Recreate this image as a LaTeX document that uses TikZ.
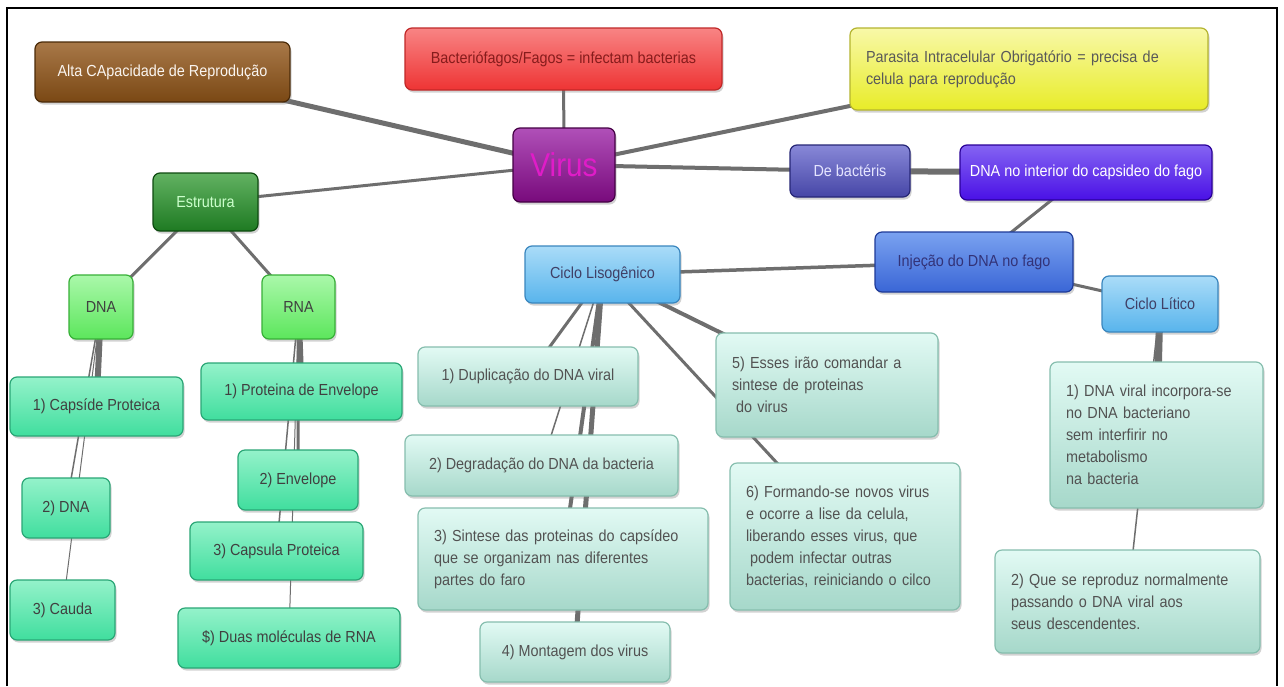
\documentclass[tikz,border=0pt]{standalone}
\usepackage{fontspec}
\setmainfont{Liberation Sans}[FakeStretch=0.9]
\usetikzlibrary{shadows}
\pgfdeclarelayer{paper}
\pgfdeclarelayer{links}
\pgfsetlayers{paper,links,main}
\definecolor{lnk}{HTML}{6E6E6E}
\definecolor{brB}{HTML}{7A4814}\definecolor{brT}{HTML}{A87848}\definecolor{brD}{HTML}{4A2A08}
\definecolor{rdB}{HTML}{EE3434}\definecolor{rdT}{HTML}{F88484}\definecolor{rdD}{HTML}{C02828}
\definecolor{ylB}{HTML}{E8EC28}\definecolor{ylT}{HTML}{F8F8A8}\definecolor{ylD}{HTML}{B4B430}
\definecolor{puB}{HTML}{780A7C}\definecolor{puT}{HTML}{B050B8}\definecolor{puD}{HTML}{440044}
\definecolor{dgB}{HTML}{1E7A22}\definecolor{dgT}{HTML}{62B262}\definecolor{dgD}{HTML}{0E4A10}
\definecolor{slB}{HTML}{4646A6}\definecolor{slT}{HTML}{8888D8}\definecolor{slD}{HTML}{262676}
\definecolor{viB}{HTML}{4A10E6}\definecolor{viT}{HTML}{8464F2}\definecolor{viD}{HTML}{2A0098}
\definecolor{rbB}{HTML}{3A66D6}\definecolor{rbT}{HTML}{7AA2F0}\definecolor{rbD}{HTML}{1E3A98}
\definecolor{skB}{HTML}{58B4EC}\definecolor{skT}{HTML}{AADCF8}\definecolor{skD}{HTML}{3A86BE}
\definecolor{lgB}{HTML}{5CE65C}\definecolor{lgT}{HTML}{AAF8AA}\definecolor{lgD}{HTML}{38B038}
\definecolor{aqB}{HTML}{40DE9E}\definecolor{aqT}{HTML}{94F2CA}\definecolor{aqD}{HTML}{2AA676}
\definecolor{paB}{HTML}{A6D8CA}\definecolor{paT}{HTML}{E2FAF4}\definecolor{paD}{HTML}{86BEAE}
\definecolor{vtx}{HTML}{E01CC8}
\tikzset{
  box/.style={draw, rounded corners=7pt, line width=1.2pt, inner sep=0pt,
    drop shadow={shadow xshift=1.5pt,shadow yshift=-2.5pt,opacity=0.35},
    font=\fontsize{16}{22}\selectfont, align=center},
  sz/.style args={#1/#2}{minimum width=#1pt, minimum height=#2pt},
  tw/.style args={#1/#2}{minimum width=#1pt, minimum height=#2pt, text width=#1pt-32pt, align=left},
  brownbox/.style={box, draw=brD, top color=brT, bottom color=brB, text=white!92!brown},
  redbox/.style={box, draw=rdD, top color=rdT, bottom color=rdB, text=rdD!70!black},
  yellowbox/.style={box, draw=ylD, top color=ylT, bottom color=ylB, text=black!65},
  purplebox/.style={box, draw=puD, top color=puT, bottom color=puB, text=vtx, font=\fontsize{33}{36}\selectfont},
  dgreenbox/.style={box, draw=dgD, top color=dgT, bottom color=dgB, text=green!20!white},
  slatebox/.style={box, draw=slD, top color=slT, bottom color=slB, text=white!90!blue},
  violetbox/.style={box, draw=viD, top color=viT, bottom color=viB, text=white},
  royalbox/.style={box, draw=rbD, top color=rbT, bottom color=rbB, text=black!55!blue!60!gray},
  skybox/.style={box, draw=skD, top color=skT, bottom color=skB, text=black!70!blue!50!gray},
  lgreenbox/.style={box, draw=lgD, top color=lgT, bottom color=lgB, text=black!75},
  aquabox/.style={box, draw=aqD, top color=aqT, bottom color=aqB, text=black!75},
  palebox/.style={box, draw=paD, top color=paT, bottom color=paB, text=black!68},
  lk/.style={draw=lnk, line width=#1pt, line cap=round},
  lk/.default=2
}
\begin{document}
\begin{tikzpicture}[x=1pt,y=-1pt]
\useasboundingbox (0,0) rectangle (1284,686);
\begin{pgfonlayer}{paper}
\fill[white] (0,0) rectangle (1284,686);
\end{pgfonlayer}
\draw[line width=2.6pt] (7,686) -- (7,8) -- (1277,8) -- (1277,686);

% nodes
\node[brownbox, sz=255/60] (alta) at (162.5,72) {Alta CApacidade de Reprodução};
\node[redbox, sz=317/62] (bact) at (563.5,59) {Bacteriófagos/Fagos = infectam bacterias};
\node[yellowbox, tw=358/82] (para) at (1029,69) {Parasita Intracelular Obrigatório = precisa de celula para reprodução};
\node[purplebox, sz=102/74] (virus) at (564,165) {Virus};
\node[dgreenbox, sz=105/58] (estr) at (205.5,202) {Estrutura};
\node[slatebox, sz=120/52] (debac) at (850,171) {De bactéris};
\node[violetbox, sz=252/55] (dnaint) at (1086,172.5) {DNA no interior do capsideo do fago};
\node[royalbox, sz=198/60] (inj) at (974,262) {Injeção do DNA no fago};
\node[skybox, sz=155/57] (cl) at (602.5,274.5) {Ciclo Lisogênico};
\node[skybox, sz=116/56] (clit) at (1160,304) {Ciclo Lítico};
\node[lgreenbox, sz=64/64] (dna) at (101,307) {DNA};
\node[lgreenbox, sz=73/64] (rna) at (298.5,307) {RNA};
\node[aquabox, sz=173/59] (cap) at (96.5,406.5) {1) Capsíde Proteica};
\node[aquabox, sz=201/57] (prot) at (301.5,391.5) {1) Proteina de Envelope};
\node[aquabox, sz=88/60] (dna2) at (66,508) {2) DNA};
\node[aquabox, sz=120/60] (env) at (298,480) {2) Envelope};
\node[aquabox, sz=173/58] (caps) at (276.5,551) {3) Capsula Proteica};
\node[aquabox, sz=105/60] (cauda) at (62.5,610) {3) Cauda};
\node[aquabox, sz=222/60] (duas) at (289,638) {\$) Duas moléculas de RNA};
\node[palebox, sz=220/59] (l1) at (528,376.5) {1) Duplicação do DNA viral};
\node[palebox, sz=273/61] (l2) at (541.5,465.5) {2) Degradação do DNA da bacteria};
\node[palebox, tw=290/102] (l3) at (563,559) {3) Sintese das proteinas do capsídeo\\que se organizam nas diferentes\\partes do faro};
\node[palebox, sz=190/60] (l4) at (575,652) {4) Montagem dos virus};
\node[palebox, tw=222/104] (l5) at (827,385) {5) Esses irão comandar a\\sintese de proteinas\\\hspace*{4pt}do virus};
\node[palebox, tw=230/147] (l6) at (845,536.5) {6) Formando-se novos virus\\e ocorre a lise da celula,\\liberando esses virus, que\\\hspace*{4pt}podem infectar outras\\bacterias, reiniciando o cilco};
\node[palebox, tw=213/146] (t1) at (1156.5,435) {1) DNA viral incorpora-se\\no DNA bacteriano\\sem interfirir no\\metabolismo\\na bacteria};
\node[palebox, tw=265/103] (t2) at (1127.5,601.5) {2) Que se reproduz normalmente\\passando o DNA viral aos\\seus descendentes.};

% connectors
\begin{pgfonlayer}{links}
\draw[lk=5] (alta.center) -- (virus.center);
\draw[lk=3] (bact.center) -- (virus.center);
\draw[lk=4] (para.center) -- (virus.center);
\draw[lk=3] (estr.center) -- (virus.center);
\draw[lk=4] (virus.center) -- (debac.center);
\draw[lk=6] (debac.center) -- (dnaint.center);
\draw[lk=3] (dnaint.center) -- (inj.center);
\draw[lk=3.5] (inj.center) -- (cl.center);
\draw[lk=3] (inj.center) -- (clit.center);
\draw[lk=3] (estr.center) -- (dna.center);
\draw[lk=3] (estr.center) -- (rna.center);
\draw[lk=6] (dna.center) -- (cap.center);
\draw[lk=1.5] (dna.center) -- (dna2.center);
\draw[lk=1] (dna.center) -- (cauda.center);
\draw[lk=6] (rna.center) -- (prot.center);
\draw[lk=3] (rna.center) -- (env.center);
\draw[lk=1.5] (rna.center) -- (caps.center);
\draw[lk=1] (rna.center) -- (duas.center);
\draw[lk=3] (cl.center) -- (l1.center);
\draw[lk=1.5] (cl.center) -- (l2.center);
\draw[lk=4] (cl.center) -- (l3.center);
\draw[lk=5] (cl.center) -- (l4.center);
\draw[lk=4] (cl.center) -- (l5.center);
\draw[lk=3] (cl.center) -- (l6.center);
\draw[lk=7] (clit.center) -- (t1.center);
\draw[lk=1.5] (clit.center) -- (t2.center);
\end{pgfonlayer}
\end{tikzpicture}
\end{document}
